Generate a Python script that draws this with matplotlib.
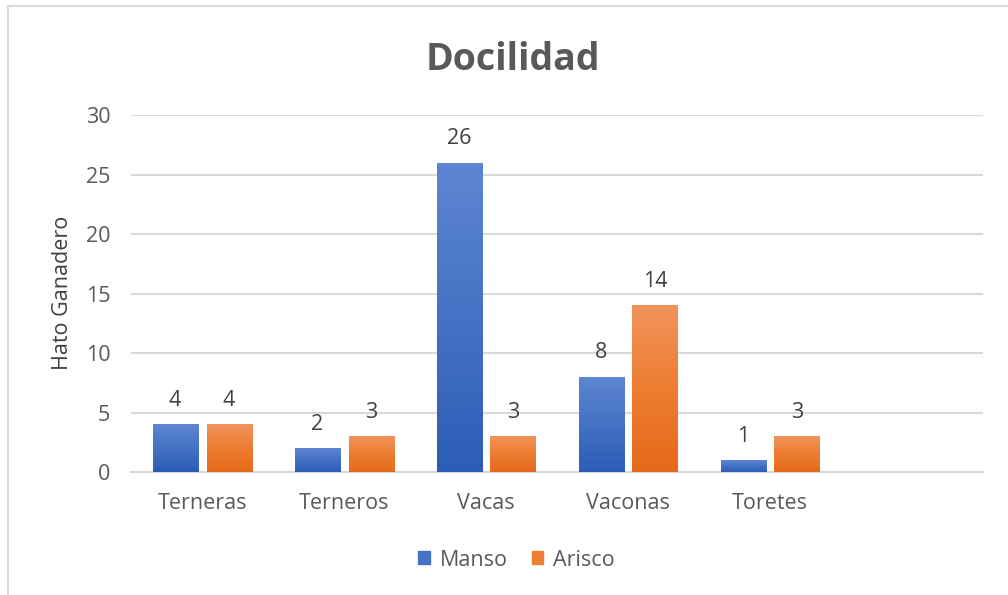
import numpy as np
import matplotlib
matplotlib.use("Agg")
import matplotlib.pyplot as plt
from matplotlib.colors import LinearSegmentedColormap
from matplotlib.patches import Rectangle

categories = ["Terneras", "Terneros", "Vacas", "Vaconas", "Toretes", ""]
manso = [4, 2, 26, 8, 1]
arisco = [4, 3, 3, 14, 3]
series_names = ["Manso", "Arisco"]

plt.rcParams['font.family'] = ['Open Sans', 'DejaVu Sans']

fig = plt.figure(figsize=(10.08, 5.95), dpi=100, facecolor="white")
ax = fig.add_axes([0.130, 0.2067, 0.8452, 0.600])

# outer chart border (only top and left visible in reference)
fig.patches.append(Rectangle((8 / 1008, -0.1), 1.2, 1 - 6 / 595 + 0.1, transform=fig.transFigure,
                             fill=False, edgecolor="#d9d9d9", linewidth=1.5, zorder=0))

blue_cmap = LinearSegmentedColormap.from_list("b", ["#2c5db6", "#4472c4", "#5e86d2"])
orange_cmap = LinearSegmentedColormap.from_list("o", ["#e5691a", "#ed7d31", "#f2935c"])

width = 0.317
offset = 0.19
grad = np.linspace(0, 1, 256).reshape(-1, 1)


def gradient_bar(x, h, cmap):
    bar = ax.bar(x, h, width=width, color="none", zorder=3)[0]
    im = ax.imshow(grad, cmap=cmap, aspect="auto", origin="lower",
                   extent=(x - width / 2, x + width / 2, 0, h), zorder=3)
    im.set_clip_path(bar)
    return bar


for i, v in enumerate(manso):
    gradient_bar(i - offset, v, blue_cmap)
    ax.text(i - offset, v + 1.55, str(v), ha="center", va="baseline", fontsize=15.5, color="#404040")
for i, v in enumerate(arisco):
    gradient_bar(i + offset, v, orange_cmap)
    ax.text(i + offset, v + 1.55, str(v), ha="center", va="baseline", fontsize=15.5, color="#404040")

ax.set_xlim(-0.5, len(categories) - 0.5)
ax.set_ylim(0, 30)
ax.set_yticks(range(0, 31, 5))
ax.set_xticks(range(len(categories)))
ax.set_xticklabels(categories)
ax.yaxis.grid(True, color="#d9d9d9", linewidth=1.5, zorder=0)
ax.set_axisbelow(True)
for s in ["left", "right", "top"]:
    ax.spines[s].set_visible(False)
ax.spines["bottom"].set_color("#d9d9d9")
ax.spines["bottom"].set_linewidth(1.5)
ax.tick_params(axis="both", length=0, labelsize=15.5, labelcolor="#595959")
ax.tick_params(axis="y", pad=15)
ax.tick_params(axis="x", pad=15)

fig.text(62 / 1008, 1 - 292.5 / 595, "Hato Ganadero", rotation=90, ha="center", va="center",
         fontsize=15.5, color="#404040")
fig.text(0.509, 1 - 70 / 595, "Docilidad", ha="center", va="baseline", fontsize=27,
         fontweight="bold", color="#595959")

handles = [Rectangle((0, 0), 1, 1, color="#4472c4"), Rectangle((0, 0), 1, 1, color="#ed7d31")]
fig.legend(handles, series_names, loc="center", bbox_to_anchor=(0.5124, 1 - 560 / 595), ncol=2,
           frameon=False, fontsize=15.5, handlelength=0.55, handleheight=0.55,
           handletextpad=0.45, columnspacing=1.1, labelcolor="#595959")

fig.savefig("out.png", dpi=100, facecolor="white")
